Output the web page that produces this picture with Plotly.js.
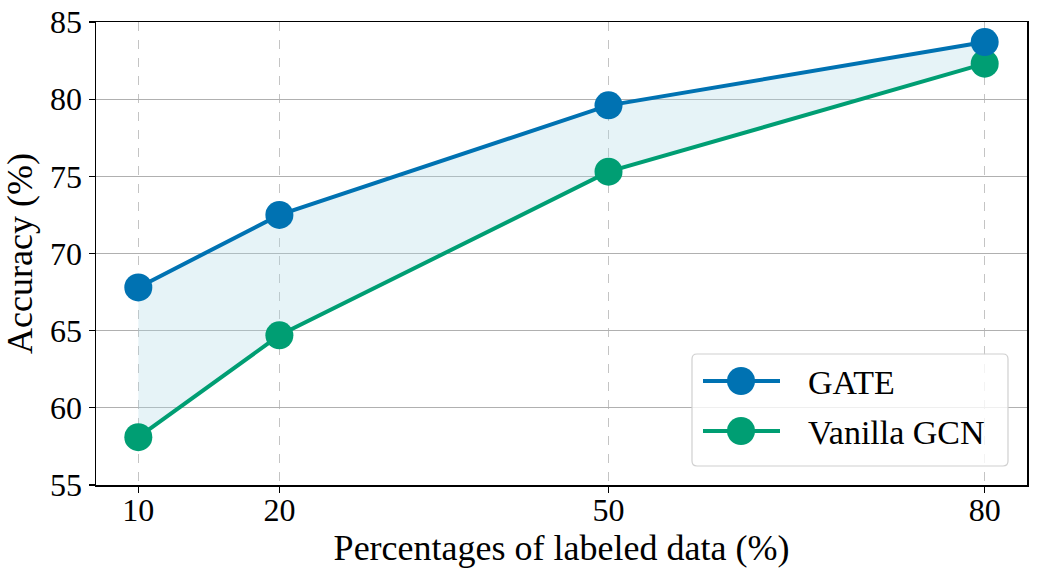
<!DOCTYPE html>
<html>
<head>
<meta charset="utf-8">
<script src="https://cdn.plot.ly/plotly-3.0.1.min.js"></script>
<style>html,body{margin:0;padding:0;background:#fff;}#chart{width:1037px;height:573px;}</style>
</head>
<body>
<div id="chart"></div>
<script>
// Data
const tickLabels = ["10", "20", "50", "80"];
const axisSlots = [0, 3, 10, 18];          // position of each label along the x axis (axis units)
const gateAcc = [67.8, 72.5, 79.6, 83.7];
const gcnAcc = [58.1, 64.7, 75.3, 82.3];
const seriesNames = ["GATE", "Vanilla GCN"];

const FONT = "Liberation Serif, Times New Roman, serif";
const blue = "#0072B2";
const green = "#009E73";

const W = 1037, H = 573;
const M = {l: 96, r: 10, t: 22, b: 88};
const PW = W - M.l - M.r, PH = H - M.t - M.b;
// pixel -> paper helpers (for the hand-drawn legend only)
const px = v => (v - M.l) / PW;
const py = v => (H - M.b - v) / PH;

const traces = [
  {
    x: axisSlots, y: gcnAcc, name: seriesNames[1], mode: "lines+markers",
    line: {color: green, width: 4},
    marker: {color: green, size: 28},
    showlegend: false
  },
  {
    x: axisSlots, y: gateAcc, name: seriesNames[0], mode: "lines+markers",
    line: {color: blue, width: 4},
    marker: {color: blue, size: 28},
    fill: "tonexty", fillcolor: "rgba(173,216,230,0.3)",
    showlegend: false
  }
];

// Legend drawn as shapes + annotations (matplotlib-style large markers)
const shapes = [];
const annotations = [];
// box with rounded corners
(function () {
  const x0 = 692, x1 = 1008, y0 = 354, y1 = 466, r = 5;
  const p = (x, y) => px(x) + "," + py(y);
  shapes.push({
    type: "path", xref: "paper", yref: "paper", layer: "above",
    path: "M" + p(x0 + r, y0) + " L" + p(x1 - r, y0) + " Q" + p(x1, y0) + " " + p(x1, y0 + r) +
          " L" + p(x1, y1 - r) + " Q" + p(x1, y1) + " " + p(x1 - r, y1) +
          " L" + p(x0 + r, y1) + " Q" + p(x0, y1) + " " + p(x0, y1 - r) +
          " L" + p(x0, y0 + r) + " Q" + p(x0, y0) + " " + p(x0 + r, y0) + " Z",
    fillcolor: "rgba(255,255,255,0.8)", line: {color: "#d0d0d0", width: 1.2}
  });
})();
[[seriesNames[0], blue, 381], [seriesNames[1], green, 431]].forEach(([name, col, yy]) => {
  shapes.push({type: "line", xref: "paper", yref: "paper", layer: "above",
    x0: px(703), x1: px(780), y0: py(yy), y1: py(yy), line: {color: col, width: 4}});
  shapes.push({type: "circle", xref: "paper", yref: "paper", layer: "above",
    x0: px(741 - 14), x1: px(741 + 14), y0: py(yy - 14), y1: py(yy + 14),
    fillcolor: col, line: {width: 0}});
  annotations.push({xref: "paper", yref: "paper", x: px(806), y: py(yy + 1),
    xanchor: "left", yanchor: "middle", showarrow: false, text: name,
    font: {family: FONT, size: 34, color: "#000"}});
});

const layout = {
  width: W, height: H,
  margin: M,
  paper_bgcolor: "#fff", plot_bgcolor: "#fff",
  font: {family: FONT, color: "#000", size: 32},
  showlegend: false,
  shapes: shapes,
  annotations: annotations,
  xaxis: {
    range: [-0.9, 18.9],
    tickmode: "array", tickvals: axisSlots, ticktext: tickLabels,
    showgrid: true, gridcolor: "#c4c4c4", gridwidth: 1, griddash: "dash",
    showline: true, linecolor: "#000", linewidth: 1.5, mirror: true,
    ticks: "outside", ticklen: 6, tickwidth: 1.2, tickcolor: "#000",
    zeroline: false,
    ticklabelstandoff: -10,
    tickfont: {family: FONT, size: 32},
    title: {text: "Percentages of labeled data (%)", font: {family: FONT, size: 36}, standoff: 0}
  },
  yaxis: {
    range: [55, 85],
    tickvals: [55, 60, 65, 70, 75, 80, 85],
    showgrid: true, gridcolor: "#b0b0b0", gridwidth: 1.2,
    showline: true, linecolor: "#000", linewidth: 1.5, mirror: true,
    ticks: "outside", ticklen: 6, tickwidth: 1.2, tickcolor: "#000",
    zeroline: false,
    tickfont: {family: FONT, size: 32},
    title: {text: "Accuracy (%)", font: {family: FONT, size: 36}, standoff: 10}
  }
};

Plotly.newPlot("chart", traces, layout, {displayModeBar: false, staticPlot: true});
</script>
</body>
</html>
